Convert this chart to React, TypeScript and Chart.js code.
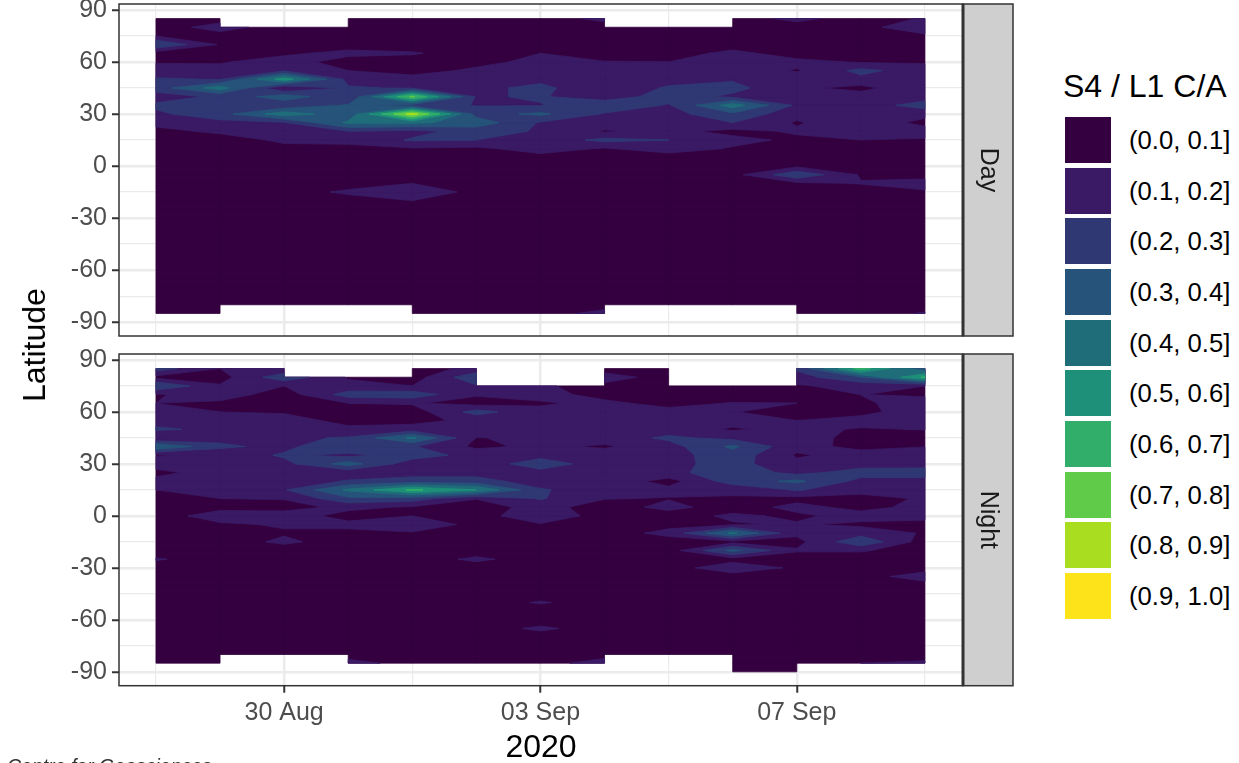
import React, { useEffect, useRef } from "react";
import { Chart, registerables } from "chart.js";

Chart.register(...registerables);

const _ = 0.05;
const N = null;

const latitudes = [85, 80, 75, 70, 65, 60, 55, 50, 45, 40, 35, 30, 25, 20, 15, 10, 5, 0, -5, -10, -15, -20, -25, -30, -35, -40, -45, -50, -55, -60, -65, -70, -75, -80, -85, -90];
const dayIndex = [0, 1, 2, 3, 4, 5, 6, 7, 8, 9, 10, 11, 12];
const dateTicks: Record<number, string> = { 2: "30 Aug", 6: "03 Sep", 10: "07 Sep" };
const latTicks = [-90, -60, -30, 0, 30, 60, 90];
const latMinorTicks = [-75, -45, -15, 15, 45, 75];

const levelBreaks = [0, 0.1, 0.2, 0.3, 0.4, 0.5, 0.6, 0.7, 0.8, 0.9];
const levelLabels = ["(0.0, 0.1]", "(0.1, 0.2]", "(0.2, 0.3]", "(0.3, 0.4]", "(0.4, 0.5]", "(0.5, 0.6]", "(0.6, 0.7]", "(0.7, 0.8]", "(0.8, 0.9]", "(0.9, 1.0]"];
const levelColors = ["#34003F", "#3A1A64", "#303873", "#265379", "#206D7A", "#1E8F78", "#31AE69", "#60CB49", "#A8DD20", "#FDE31A"];

const dayValues: (number | null)[][] = [
  [_, .06, N, _, _, _, _, .13, N, _, .13, _, .11],
  [_, .14, _, _, _, _, _, _, _, _, _, _, .2],
  [.1, .06, _, _, _, _, _, _, _, _, _, _, .07],
  [.3, .09, _, _, _, _, _, _, _, _, _, _, _],
  [_, _, .08, .13, .11, _, .1, _, _, .13, _, _, _],
  [.09, .09, .15, _, _, .07, .13, .105, .1, .15, .13, .09, .09],
  [.15, .14, .19, .1, .06, .12, .15, .13, .13, .17, .09, .23, .14],
  [.21, .195, .55, .17, .14, .16, .18, .16, .17, .19, .16, .17, .16],
  [.25, .45, .09, .21, .19, .18, .22, .14, .21, .23, .12, .07, .18],
  [.15, .22, .36, .21, .72, .19, .21, .14, .25, .18, .15, .15, .15],
  [.22, .24, .22, .31, .25, .195, .195, .28, .19, .45, .18, .14, .25],
  [.18, .26, .46, .33, .85, .26, .32, .19, .16, .28, .13, .14, .13],
  [.13, .17, .19, .42, .42, .36, .19, .15, .14, .2, .09, .17, .07],
  [.07, .12, .15, .2, .17, .24, .19, .09, .13, .07, .113, .15, .14],
  [_, _, .12, .13, .21, .2, .13, .23, .2, .13, .08, .1, .09],
  [_, _, .07, .07, .09, .08, .14, .09, .15, .09, _, _, _],
  [_, _, _, _, _, _, .07, _, _, _, _, _, _],
  [_, _, _, _, _, _, _, _, _, _, .08, _, _],
  [_, _, _, _, _, _, _, _, _, .065, .28, .09, .07],
  [_, _, _, _, .1, _, _, _, _, _, .08, .105, .13],
  [_, _, _, .12, .17, .07, _, _, _, _, _, _, .09],
  [_, _, _, _, .1, _, _, _, _, _, _, _, _],
  [_, _, _, _, _, _, _, _, _, _, _, _, _],
  [_, _, _, _, _, _, _, _, _, _, _, _, _],
  [_, _, _, _, _, _, _, _, _, _, _, _, _],
  [_, _, _, _, _, _, _, _, _, _, _, _, _],
  [_, _, _, _, _, _, _, _, _, _, _, _, _],
  [_, _, _, _, _, _, _, _, _, _, _, _, _],
  [_, _, _, _, _, _, _, _, _, _, _, _, _],
  [_, _, _, _, _, _, _, _, _, _, _, _, _],
  [_, _, _, _, _, _, _, _, _, _, _, _, _],
  [_, _, _, _, _, _, _, _, _, _, _, _, _],
  [_, _, _, _, _, _, _, _, _, _, _, _, _],
  [_, _, _, _, _, _, _, _, _, _, _, _, _],
  [_, _, N, N, _, _, _, .14, N, N, _, _, .11],
  [N, N, N, N, N, N, N, N, N, N, N, N, N],
];

const nightValues: (number | null)[][] = [
  [.25, .1, .11, N, _, .13, N, _, _, N, .22, .65, .32],
  [.07, .06, .27, .09, _, .28, N, .15, _, N, .15, .3, .62],
  [.3, .11, .1, .13, .1, .19, .11, .07, _, _, .09, .13, .1],
  [.09, .15, _, .245, .26, .11, .13, .07, _, _, _, .101, .09],
  [.1, .08, _, .1, .11, .06, .09, .12, .07, .105, .1, .09, .13],
  [.14, .1, .09, _, _, .24, .12, .14, .13, .105, _, .06, .18],
  [.15, .14, .14, .07, .07, .126, .15, .15, .14, .14, .1, .15, .15],
  [.22, .17, .16, .12, .14, .14, .16, .16, .15, .088, .13, .09, .105],
  [.09, .17, .18, .21, .42, .098, .11, .14, .22, .17, .14, .07, _],
  [.4, .22, .17, .3, .21, .08, .12, .087, .16, .32, .125, .08, .098],
  [.09, .13, .215, .17, .25, .16, .15, .15, .16, .26, .09, .13, .14],
  [.15, .16, .17, .345, .14, .11, .28, .12, .17, .24, .12, .16, .165],
  [.07, .15, .15, .13, .16, .16, .15, .15, .17, .26, .17, .24, .24],
  [.13, .14, .13, .21, .24, .24, .15, .17, .06, .25, .32, .17, .17],
  [.1, .11, .19, .42, .62, .5, .21, .15, .13, .12, .21, .13, .12],
  [_, .1, .105, .28, .25, .105, .21, .105, .095, .09, .07, .07, .11],
  [_, .07, .07, .12, .09, _, .14, _, .13, _, .13, .07, .13],
  [_, .15, .14, .07, .1, _, .18, _, _, .12, .08, .14, .12],
  [_, .085, .11, .12, .16, .073, .09, _, .07, .09, .11, .08, .08],
  [_, _, .09, .08, .09, _, _, _, .13, .42, .12, .16, .09],
  [_, _, .12, _, _, _, _, _, _, .07, .07, .28, _],
  [_, _, _, _, _, _, _, _, _, .33, .11, .11, _],
  [.11, _, _, _, _, .12, _, _, _, .06, _, _, _],
  [_, _, _, _, _, _, _, _, _, .17, .08, _, _],
  [_, _, _, _, _, _, _, _, _, _, _, _, .16],
  [_, _, _, _, _, _, _, _, _, _, _, _, _],
  [_, _, _, _, _, _, _, _, _, _, _, _, _],
  [_, _, _, _, _, _, .11, _, _, _, _, _, _],
  [_, _, _, _, _, _, _, _, _, _, _, _, _],
  [_, _, _, _, _, _, _, _, _, _, _, _, _],
  [_, _, _, _, _, _, .12, _, _, _, _, _, _],
  [_, _, _, _, _, _, _, _, _, _, _, _, _],
  [_, _, _, _, _, _, _, _, _, _, _, _, _],
  [_, _, _, _, _, _, _, _, _, _, _, _, _],
  [_, _, N, .14, .06, _, _, .16, N, _, _, .1, .12],
  [N, N, N, N, N, N, N, N, N, _, _, N, N],
];

const FONT = "'Liberation Sans', Arial, sans-serif";
const INK = "#333333";
const TICK_TEXT = "#4D4D4D";
const GRID = "#EBEBEB";

type Corner = { x: number; y: number; v: number };

function crossing(a: Corner, b: Corner, level: number): Corner {
  const t = (level - a.v) / (b.v - a.v);
  return { x: a.x + t * (b.x - a.x), y: a.y + t * (b.y - a.y), v: level };
}

function clipCell(corners: Corner[], level: number): Corner[][] {
  const flags = corners.map((k) => k.v >= level);
  const isSaddle = flags[0] === flags[2] && flags[1] === flags[3] && flags[0] !== flags[1];
  const mean = corners.reduce((s, k) => s + k.v, 0) / 4;
  if (isSaddle && mean < level) {
    const out: Corner[][] = [];
    for (let i = 0; i < 4; i++) {
      if (!flags[i]) continue;
      const prev = corners[(i + 3) % 4];
      const next = corners[(i + 1) % 4];
      out.push([crossing(prev, corners[i], level), corners[i], crossing(corners[i], next, level)]);
    }
    return out;
  }
  const out: Corner[] = [];
  for (let i = 0; i < 4; i++) {
    const a = corners[i];
    const b = corners[(i + 1) % 4];
    if (flags[i]) out.push(a);
    if (flags[i] !== flags[(i + 1) % 4]) out.push(crossing(a, b, level));
  }
  return out.length >= 3 ? [out] : [];
}

function contourPlugin(values: (number | null)[][], strip: string) {
  return {
    id: "contourBands",
    beforeDatasetsDraw(chart: any) {
      const { ctx, scales } = chart;
      const xs = scales.x;
      const ys = scales.y;
      levelBreaks.forEach((level, li) => {
        ctx.save();
        ctx.beginPath();
        for (let r = 0; r < latitudes.length - 1; r++) {
          for (let c = 0; c < dayIndex.length - 1; c++) {
            const v00 = values[r][c];
            const v01 = values[r][c + 1];
            const v10 = values[r + 1][c];
            const v11 = values[r + 1][c + 1];
            if (v00 === null || v01 === null || v10 === null || v11 === null) continue;
            const x0 = xs.getPixelForValue(dayIndex[c]);
            const x1 = xs.getPixelForValue(dayIndex[c + 1]);
            const y0 = ys.getPixelForValue(latitudes[r]);
            const y1 = ys.getPixelForValue(latitudes[r + 1]);
            const polys = clipCell(
              [
                { x: x0, y: y0, v: v00 },
                { x: x1, y: y0, v: v01 },
                { x: x1, y: y1, v: v11 },
                { x: x0, y: y1, v: v10 },
              ],
              level,
            );
            for (const poly of polys) {
              ctx.moveTo(poly[0].x, poly[0].y);
              for (let i = 1; i < poly.length; i++) ctx.lineTo(poly[i].x, poly[i].y);
              ctx.closePath();
            }
          }
        }
        ctx.fillStyle = levelColors[li];
        ctx.strokeStyle = levelColors[li];
        ctx.lineWidth = 0.8;
        ctx.lineJoin = "round";
        ctx.fill();
        ctx.stroke();
        ctx.restore();
      });
    },
    afterDraw(chart: any) {
      const { ctx, chartArea: a } = chart;
      ctx.save();
      ctx.strokeStyle = INK;
      ctx.lineWidth = 1.5;
      ctx.strokeRect(a.left, a.top, a.right - a.left, a.bottom - a.top);
      const sw = 50;
      ctx.fillStyle = "#CFCFCF";
      ctx.fillRect(a.right, a.top, sw, a.bottom - a.top);
      ctx.strokeRect(a.right, a.top, sw, a.bottom - a.top);
      ctx.lineWidth = 3;
      ctx.beginPath();
      ctx.moveTo(a.right, a.top);
      ctx.lineTo(a.right, a.bottom);
      ctx.stroke();
      ctx.translate(a.right + sw / 2, (a.top + a.bottom) / 2);
      ctx.rotate(Math.PI / 2);
      ctx.fillStyle = "#1A1A1A";
      ctx.font = `25px ${FONT}`;
      ctx.textAlign = "center";
      ctx.textBaseline = "middle";
      ctx.fillText(strip, 0, 0);
      ctx.restore();
    },
  };
}

function buildChart(
  canvas: HTMLCanvasElement,
  values: (number | null)[][],
  strip: string,
  name: string,
  top: number,
  areaBottom: number,
  showX: boolean,
) {
  const points: { x: number; y: number; v: number }[] = [];
  latitudes.forEach((lat, r) =>
    dayIndex.forEach((d, c) => {
      const v = values[r][c];
      if (v !== null) points.push({ x: d, y: lat, v });
    }),
  );
  return new Chart(canvas, {
    type: "scatter",
    data: { datasets: [{ label: name, data: points, pointRadius: 0, showLine: false }] },
    options: {
      responsive: false,
      animation: false,
      layout: { padding: { left: 0, right: canvas.width - 963, top, bottom: 0 } },
      plugins: { legend: { display: false }, tooltip: { enabled: false }, title: { display: false } },
      scales: {
        x: {
          type: "linear",
          min: -0.577,
          max: 12.594,
          afterBuildTicks: (s: any) => {
            s.ticks = [0, 2, 4, 6, 8, 10, 12].map((value) => ({ value }));
          },
          afterFit: (s: any) => {
            s.height = canvas.height - areaBottom;
            s.paddingLeft = 0;
            s.paddingRight = 0;
          },
          border: { display: false },
          grid: {
            color: GRID,
            lineWidth: (c: any) => (dateTicks[c.tick?.value] ? 2.5 : 1.2),
            drawTicks: showX,
            tickLength: 7,
            tickWidth: 2,
            tickColor: (c: any) => (dateTicks[c.tick?.value] ? INK : "rgba(0,0,0,0)"),
          },
          ticks: {
            display: showX,
            autoSkip: false,
            maxRotation: 0,
            padding: 5,
            color: TICK_TEXT,
            font: { family: FONT, size: 25 },
            callback: (v: any) => dateTicks[v] ?? "",
          },
          title: {
            display: showX,
            text: "2020",
            color: "#000000",
            font: { family: FONT, size: 32, lineHeight: 0.95 },
            padding: { top: 0, bottom: 0 },
          },
        },
        y: {
          type: "linear",
          min: -98,
          max: 93.4,
          afterBuildTicks: (s: any) => {
            s.ticks = [...latTicks, ...latMinorTicks].sort((p, q) => p - q).map((value) => ({ value }));
          },
          afterFit: (s: any) => {
            s.width = 119;
            s.paddingTop = 0;
            s.paddingBottom = 0;
          },
          border: { display: false },
          grid: {
            color: GRID,
            lineWidth: (c: any) => (latTicks.includes(c.tick?.value) ? 2.5 : 1.2),
            tickLength: 7,
            tickWidth: 2,
            tickColor: (c: any) => (latTicks.includes(c.tick?.value) ? INK : "rgba(0,0,0,0)"),
          },
          ticks: {
            autoSkip: false,
            padding: 5,
            color: TICK_TEXT,
            font: { family: FONT, size: 25 },
            callback: (v: any) => (latTicks.includes(v) ? String(v) : ""),
          },
        },
      },
    },
    plugins: [contourPlugin(values, strip)],
  } as any);
}

export default function App() {
  const topRef = useRef<HTMLCanvasElement>(null);
  const botRef = useRef<HTMLCanvasElement>(null);
  useEffect(() => {
    document.body.style.margin = "0";
    document.body.style.overflow = "hidden";
    const a = buildChart(topRef.current!, dayValues, "Day", "Day", 4, 336, false);
    const b = buildChart(botRef.current!, nightValues, "Night", "Night", 9, 340.7, true);
    return () => {
      a.destroy();
      b.destroy();
    };
  }, []);
  return (
    <div style={{ position: "absolute", left: 0, top: 0, width: 1239, height: 763, overflow: "hidden", background: "#fff", fontFamily: FONT }}>
      <canvas ref={topRef} width={1020} height={345} style={{ position: "absolute", left: 0, top: 0 }} />
      <canvas ref={botRef} width={1020} height={418} style={{ position: "absolute", left: 0, top: 345 }} />
      <div style={{ position: "absolute", left: 34, top: 345, transform: "translate(-50%,-50%) rotate(-90deg)", fontSize: 32, lineHeight: 1, color: "#000", whiteSpace: "nowrap" }}>Latitude</div>
      <div style={{ position: "absolute", left: 1063, top: 68, fontSize: 32, lineHeight: "36px", color: "#000", whiteSpace: "nowrap" }}>S4 / L1 C/A</div>
      {levelLabels.map((label, i) => (
        <React.Fragment key={label}>
          <div style={{ position: "absolute", left: 1065, top: 117 + i * 50.67, width: 46, height: 46, background: levelColors[i] }} />
          <div style={{ position: "absolute", left: 1129, top: 117 + i * 50.67, height: 46, lineHeight: "46px", fontSize: 25.7, color: "#000", whiteSpace: "nowrap" }}>{label}</div>
        </React.Fragment>
      ))}
      <div style={{ position: "absolute", left: 7, top: 755, fontSize: 19.5, lineHeight: "22px", fontStyle: "italic", color: "#333", whiteSpace: "nowrap" }}>Centre for Geosciences</div>
    </div>
  );
}
